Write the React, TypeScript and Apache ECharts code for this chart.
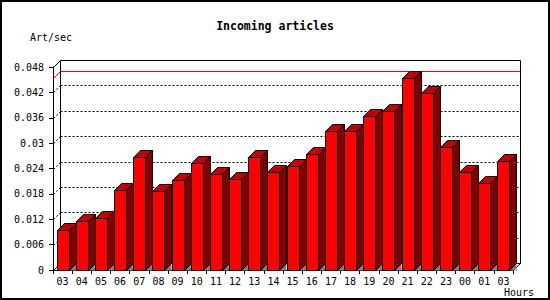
import React, { useEffect, useRef } from "react";
import * as echarts from "echarts";

const hours = ["03", "04", "05", "06", "07", "08", "09", "10", "11", "12", "13", "14", "15", "16", "17", "18", "19", "20", "21", "22", "23", "00", "01", "03"];
const artPerSec = [0.0094, 0.0117, 0.0122, 0.0188, 0.0267, 0.0186, 0.0212, 0.0252, 0.0226, 0.0214, 0.0268, 0.0231, 0.0245, 0.0275, 0.0328, 0.0328, 0.0363, 0.0377, 0.0453, 0.0419, 0.029, 0.0231, 0.0205, 0.0257];
const yTickValues = [0, 0.006, 0.012, 0.018, 0.024, 0.03, 0.036, 0.042, 0.048];
const yTickLabels = ["0", "0.006", "0.012", "0.018", "0.024", "0.03", "0.036", "0.042", "0.048"];

const FONT = "DejaVu Sans Mono";
const DEPTH = 7;
const px = (v: number) => Math.round(v) + 0.5;

export default function App() {
  const ref = useRef<HTMLDivElement>(null);
  useEffect(() => {
    if (!ref.current) return;
    const chart = echarts.init(ref.current, null, { renderer: "svg" });
    const maxValue = Math.max(...artPerSec);
    const gridValues = yTickValues.slice(1, -1);

    const wallRender = (params: any, api: any) => {
      const cs = params.coordSys;
      const L = px(cs.x), R = px(cs.x + cs.width), T = px(cs.y), B = px(cs.y + cs.height);
      const d = DEPTH;
      const children: any[] = [];
      const solid = { stroke: "#000", lineWidth: 1, fill: "none" };
      const dotted = { stroke: "#000", lineWidth: 1, lineDash: [2, 2], fill: "none" };
      gridValues.forEach((v) => {
        const y = px(api.coord([0, v])[1]);
        children.push({ type: "line", shape: { x1: L + d, y1: y - d, x2: R + d, y2: y - d }, style: dotted });
        children.push({ type: "line", shape: { x1: L, y1: y, x2: L + d, y2: y - d }, style: dotted });
      });
      const ym = px(api.coord([0, maxValue])[1]);
      children.push({ type: "polyline", shape: { points: [[L, ym], [L + d, ym - d], [R + d, ym - d]] }, style: { stroke: "#ff0000", lineWidth: 1, fill: "none" } });
      children.push({ type: "polyline", shape: { points: [[L, T], [L + d, T - d], [R + d, T - d], [R + d, B - d], [R, B]] }, style: solid });
      children.push({ type: "polyline", shape: { points: [[L, B], [L + d, B - d], [R + d, B - d]] }, style: solid });
      children.push({ type: "line", shape: { x1: L + d, y1: T - d, x2: L + d, y2: B - d }, style: solid });
      return { type: "group", children };
    };

    const barRender = (params: any, api: any) => {
      const idx = api.value(0);
      const v = api.value(1);
      const top = api.coord([idx, v]);
      const base = api.coord([idx, 0]);
      const cx = top[0];
      const x0 = px(cx - 6), x1 = px(cx + 6);
      const yt = px(top[1]), yb = px(base[1]);
      const d = DEPTH;
      const edge = { stroke: "#000", lineWidth: 1 };
      return {
        type: "group",
        children: [
          { type: "polygon", shape: { points: [[x1, yb], [x1 + d, yb], [x1 + d, yb - d]] }, style: { fill: "#808080" } },
          { type: "polygon", shape: { points: [[x1, yb], [x1, yt], [x1 + d, yt - d], [x1 + d, yb - d]] }, style: { fill: "#800000", ...edge } },
          { type: "polygon", shape: { points: [[x0, yt], [x0 + d, yt - d], [x1 + d, yt - d], [x1, yt]] }, style: { fill: "#c00000", ...edge } },
          { type: "rect", shape: { x: x0, y: yt, width: x1 - x0, height: yb - yt }, style: { fill: "#ff0000", ...edge } },
        ],
      };
    };

    chart.setOption({
      animation: false,
      backgroundColor: "#fff",
      title: {
        text: "Incoming articles",
        left: "center",
        top: 20,
        padding: 0,
        textStyle: { fontFamily: FONT, fontSize: 11.5, fontWeight: "bold", color: "#000" },
      },
      grid: { left: 53, right: 37, top: 67, bottom: 30, containLabel: false },
      xAxis: {
        type: "category",
        data: hours,
        boundaryGap: true,
        axisLine: { lineStyle: { color: "#000", width: 1 } },
        axisTick: { show: true, length: 4, lineStyle: { color: "#000" } },
        axisLabel: { color: "#000", fontFamily: FONT, fontSize: 10, margin: 6, interval: 0 },
        splitLine: { show: false },
      },
      yAxis: {
        type: "value",
        min: 0,
        max: 0.048,
        interval: 0.006,
        axisLine: { show: true, lineStyle: { color: "#000", width: 1 } },
        axisTick: { show: true, length: 4, lineStyle: { color: "#000" } },
        axisLabel: {
          color: "#000",
          fontFamily: FONT,
          fontSize: 10,
          margin: 9,
          formatter: (value: number) => {
            const i = yTickValues.findIndex((t) => Math.abs(t - value) < 1e-9);
            return i >= 0 ? yTickLabels[i] : String(value);
          },
        },
        splitLine: { show: false },
      },
      series: [
        {
          type: "custom",
          name: "walls",
          z: 1,
          silent: true,
          renderItem: wallRender,
          data: [[0, 0]],
        },
        {
          type: "custom",
          name: "Art/sec",
          z: 2,
          renderItem: barRender,
          encode: { x: 0, y: 1 },
          data: artPerSec.map((v, i) => [i, v]),
        },
      ],
      graphic: [
        { type: "rect", shape: { x: 1, y: 1, width: 548, height: 298 }, style: { fill: "none", stroke: "#000", lineWidth: 2 }, silent: true },
        { type: "text", x: 30, y: 37, style: { text: "Art/sec", font: `10px '${FONT}'`, fill: "#000", verticalAlign: "middle" } },
        { type: "text", x: 504, y: 292, style: { text: "Hours", font: `10px '${FONT}'`, fill: "#000", verticalAlign: "middle" } },
      ],
    });
    return () => chart.dispose();
  }, []);
  return <div ref={ref} style={{ position: "absolute", left: 0, top: 0, width: 550, height: 300 }} />;
}
